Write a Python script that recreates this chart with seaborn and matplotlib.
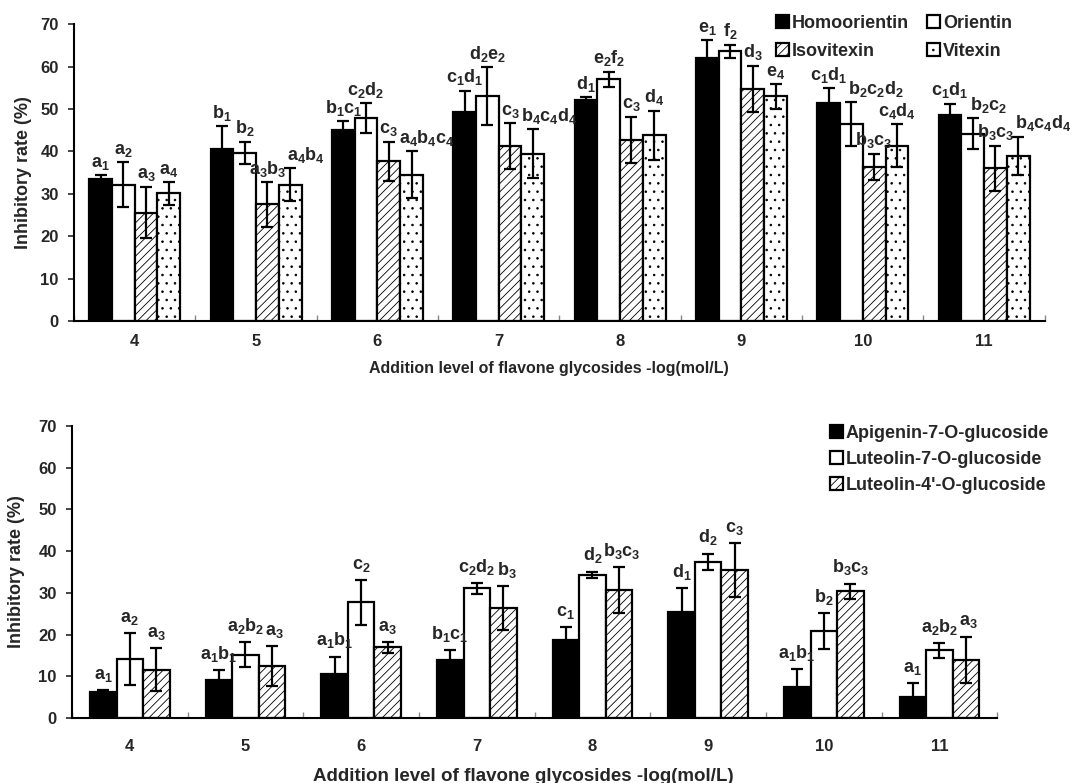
import re
import numpy as np
import pandas as pd
import matplotlib
matplotlib.use("Agg")
import matplotlib.pyplot as plt
from matplotlib.container import BarContainer
import seaborn as sns

levels = ["4", "5", "6", "7", "8", "9", "10", "11"]

# upper panel: C-glycosides
top_names = ["Homoorientin", "Orientin", "Isovitexin", "Vitexin"]
homoorientin = [33.5, 40.5, 45.0, 49.3, 52.2, 62.1, 51.5, 48.5]
homoorientin_err = [0.9, 5.5, 2.1, 5.0, 0.6, 4.2, 3.4, 2.8]
orientin = [32.2, 39.7, 47.9, 53.1, 57.0, 63.6, 46.4, 44.2]
orientin_err = [5.3, 2.6, 3.5, 6.8, 1.8, 1.6, 5.2, 3.6]
isovitexin = [25.6, 27.5, 37.7, 41.2, 42.7, 54.7, 36.4, 36.0]
isovitexin_err = [6.1, 5.3, 4.6, 5.4, 5.5, 5.5, 3.1, 5.4]
vitexin = [30.1, 32.1, 34.5, 39.5, 43.8, 53.0, 41.4, 39.0]
vitexin_err = [2.7, 3.9, 5.5, 5.8, 5.8, 2.9, 5.0, 4.5]

homoorientin_sig = ["a1", "b1", "b1c1", "c1d1", "d1", "e1", "c1d1", "c1d1"]
orientin_sig = ["a2", "b2", "c2d2", "d2e2", "e2f2", "f2", "b2c2d2", "b2c2"]
isovitexin_sig = ["a3", "a3b3", "c3", "c3", "c3", "d3", "b3c3", "b3c3"]
vitexin_sig = ["a4", "a4b4", "a4b4c4", "b4c4d4", "d4", "e4", "c4d4", "b4c4d4"]

# lower panel: O-glycosides
bottom_names = ["Apigenin-7-O-glucoside", "Luteolin-7-O-glucoside", "Luteolin-4'-O-glucoside"]
apigenin7 = [6.2, 9.0, 10.6, 13.8, 18.8, 25.3, 7.5, 5.1]
apigenin7_err = [0.4, 2.4, 4.1, 2.4, 2.9, 5.8, 4.2, 3.2]
luteolin7 = [14.1, 15.2, 27.7, 31.1, 34.3, 37.4, 20.9, 16.2]
luteolin7_err = [6.3, 2.9, 5.4, 1.3, 0.8, 2.0, 4.3, 1.8]
luteolin4 = [11.6, 12.4, 16.9, 26.3, 30.7, 35.5, 30.4, 14.0]
luteolin4_err = [5.2, 4.8, 1.3, 5.3, 5.5, 6.4, 1.8, 5.5]

apigenin7_sig = ["a1", "a1b1", "a1b1", "b1c1", "c1", "d1", "a1b1", "a1"]
luteolin7_sig = ["a2", "a2b2", "c2", "c2d2", "d2", "d2", "b2", "a2b2"]
luteolin4_sig = ["a3", "a3", "a3", "b3", "b3c3", "c3", "b3c3", "a3"]

sns.set_style("ticks")
plt.rcParams["font.family"] = ["Liberation Sans", "DejaVu Sans"]
plt.rcParams["font.weight"] = "bold"
plt.rcParams["mathtext.fontset"] = "custom"
plt.rcParams["mathtext.rm"] = "Liberation Sans:bold"
plt.rcParams["mathtext.it"] = "Liberation Sans:bold"
plt.rcParams["mathtext.bf"] = "Liberation Sans:bold"
plt.rcParams["hatch.linewidth"] = 0.6


def sub(s):
    # "b1c1" -> b$_1$c$_1$
    return re.sub(r"(\d)", r"$_{\1}$", s)


def draw_panel(ax, names, series, errors, sigs, colors, hatches, width, gap):
    rows = []
    for name, vals in zip(names, series):
        for lev, v in zip(levels, vals):
            rows.append({"level": lev, "compound": name, "rate": v})
    df = pd.DataFrame(rows)

    sns.barplot(data=df, x="level", y="rate", hue="compound", order=levels,
                hue_order=names, palette=dict(zip(names, colors)), saturation=1,
                edgecolor="black", linewidth=1.6, width=width, gap=0,
                errorbar=None, legend=False, ax=ax)

    bars = [c for c in ax.containers if isinstance(c, BarContainer)]
    texts = []
    for cont, hatch, err, sig in zip(bars, hatches, errors, sigs):
        xs, ys = [], []
        for p in cont.patches:
            p.set_hatch(hatch)
            xs.append(p.get_x() + p.get_width() / 2)
            ys.append(p.get_height())
        ax.errorbar(xs, ys, yerr=err, fmt="none", ecolor="black",
                    elinewidth=1.6, capsize=4.5, capthick=1.6, zorder=4)
        row = []
        for x, y, e, s in zip(xs, ys, err, sig):
            row.append(ax.text(x, y + e + gap, sub(s), ha="center", va="bottom",
                               fontsize=13, fontweight="bold", zorder=5))
        texts.append(row)

    ax.set_xlim(-0.5, len(levels) - 0.5)
    ax.set_ylim(0, 70)
    ax.set_yticks(np.arange(0, 71, 10))
    ax.set_xticks(np.arange(-0.5, len(levels)), minor=True)
    ax.tick_params(axis="y", direction="out", length=4, width=1.2, pad=7,
                   labelsize=12)
    ax.tick_params(axis="x", which="major", length=0, labelsize=12)
    ax.tick_params(axis="x", which="minor", direction="in", length=4,
                   width=1, color="#888888")
    for lab in ax.get_xticklabels() + ax.get_yticklabels():
        lab.set_fontweight("bold")
    sns.despine(ax=ax)
    for sp in ["left", "bottom"]:
        ax.spines[sp].set_linewidth(1.5)
        ax.spines[sp].set_color("black")
    ax.set_ylabel("Inhibitory rate (%)", fontsize=13, fontweight="bold")
    ax.set_xlabel("Addition level of flavone glycosides -log(mol/L)",
                  fontsize=13.5, fontweight="bold")
    return bars, texts


def spread_labels(ax, texts):
    # push a letter label to the right when it runs into its left neighbour
    r = ax.figure.canvas.get_renderer()
    px = ax.transData.transform((1, 0))[0] - ax.transData.transform((0, 0))[0]
    for i in range(len(levels)):
        prev = None
        for row in texts:
            t = row[i]
            if prev is not None:
                b0 = prev.get_window_extent(r)
                b1 = t.get_window_extent(r)
                if b1.x0 < b0.x1 and b1.y0 < b0.y1 - 3 and b0.y0 < b1.y1 - 3:
                    x, y = t.get_position()
                    t.set_position((x + (b0.x1 - b1.x0 + 1) / px, y))
            prev = t


fig = plt.figure(figsize=(10.81, 7.83), dpi=100)
ax1 = fig.add_axes([0.0685, 0.590, 0.898, 0.379])
ax2 = fig.add_axes([0.0666, 0.083, 0.856, 0.373])

bars1, texts1 = draw_panel(ax1, top_names,
                           [homoorientin, orientin, isovitexin, vitexin],
                           [homoorientin_err, orientin_err, isovitexin_err, vitexin_err],
                           [homoorientin_sig, orientin_sig, isovitexin_sig, vitexin_sig],
                           ["black", "white", "white", "white"], ["", "", "////", ".."],
                           width=0.75, gap=0.8)
ax1.tick_params(axis="x", which="major", pad=9)
ax1.xaxis.label.set_fontsize(11.5)
ax1.xaxis.set_label_coords(0.489, -0.136)
ax1.yaxis.set_label_coords(-0.043, 0.5)

bars2, texts2 = draw_panel(ax2, bottom_names,
                           [apigenin7, luteolin7, luteolin4],
                           [apigenin7_err, luteolin7_err, luteolin4_err],
                           [apigenin7_sig, luteolin7_sig, luteolin4_sig],
                           ["black", "white", "white"], ["", "", "////"],
                           width=0.69, gap=1.5)
ax2.tick_params(axis="x", which="major", pad=15)
ax2.xaxis.set_label_coords(0.488, -0.170)
ax2.yaxis.set_label_coords(-0.051, 0.5)

fig.canvas.draw()
spread_labels(ax1, texts1)
spread_labels(ax2, texts2)

# legends
h1 = [c.patches[0] for c in bars1]
order = [0, 2, 1, 3]
fig.legend([h1[i] for i in order], [top_names[i] for i in order],
           loc="upper left", bbox_to_anchor=(776 / 1081, 1 - 15 / 783),
           ncol=2, frameon=False, fontsize=13, handlelength=0.7,
           handleheight=0.7, handletextpad=0.15, columnspacing=1.05,
           labelspacing=0.6, borderpad=0, borderaxespad=0)

h2 = [c.patches[0] for c in bars2]
fig.legend(h2, bottom_names, loc="upper left",
           bbox_to_anchor=(830 / 1081, 1 - 425 / 783), ncol=1, frameon=False,
           fontsize=13, handlelength=0.7, handleheight=0.7,
           handletextpad=0.15, labelspacing=0.5, borderpad=0, borderaxespad=0)

fig.savefig("out.png", dpi=100)
